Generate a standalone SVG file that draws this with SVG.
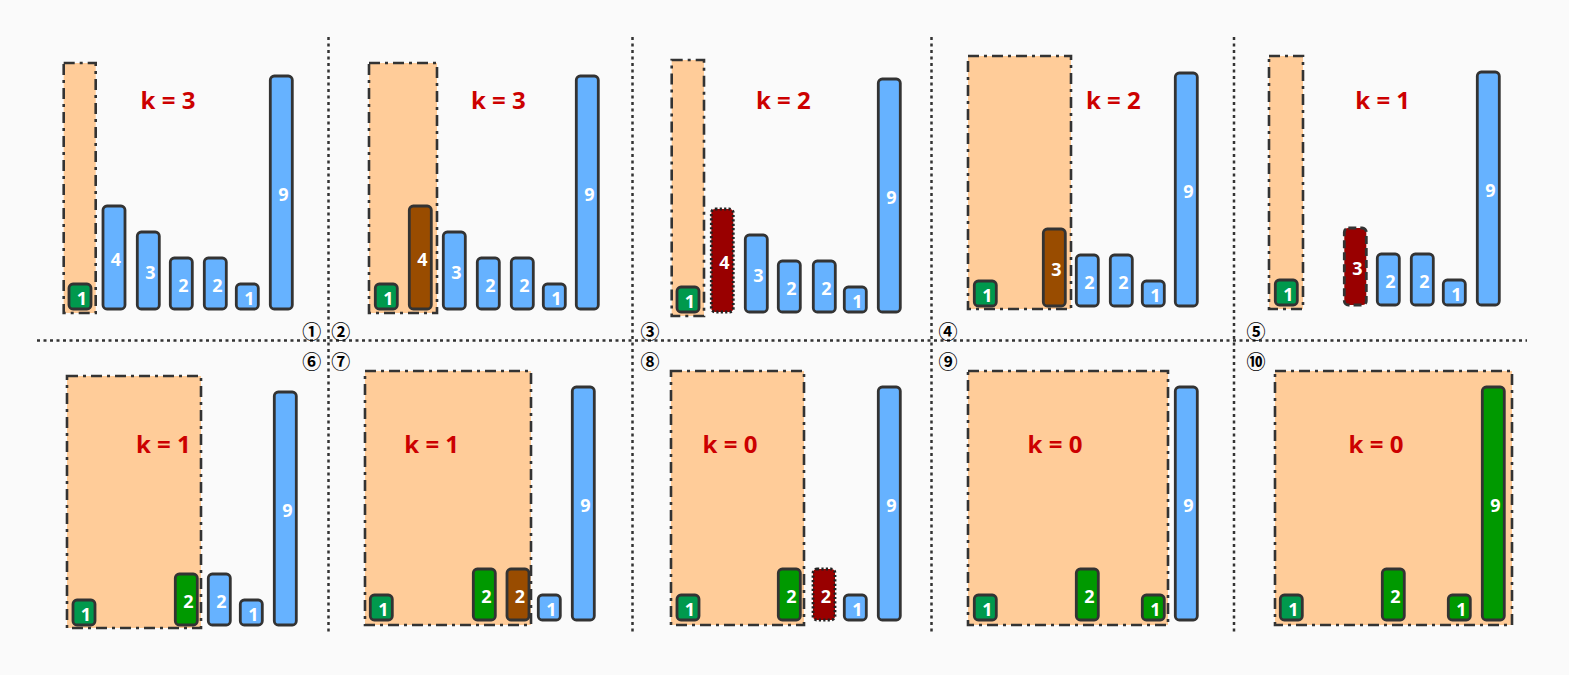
<svg xmlns="http://www.w3.org/2000/svg" width="1569" height="675" viewBox="0 0 1569 675">
<style>
.bar{stroke:#333333;stroke-width:2.8}
.b{fill:#66B2FF}
.t{fill:#00994D}
.g{fill:#009900}
.br{fill:#994C00}
.dr{fill:#990000}
.dot{stroke:#222222;stroke-dasharray:2.2 2.2}
.dash{stroke-dasharray:8 4}
.win{fill:#FFCC99;stroke:#333333;stroke-width:2.6;stroke-dasharray:11 5 3 5}
.v{font-family:"Open Sans","Liberation Sans",sans-serif;font-weight:bold;font-size:18px;fill:#FFFFFF;text-anchor:middle}
.k{font-family:"Open Sans","Liberation Sans",sans-serif;font-weight:bold;font-size:24px;fill:#CC0000;text-anchor:middle}
.n{font-family:"Noto Sans CJK SC","DejaVu Sans",sans-serif;font-size:19px;font-weight:bold;fill:#000000;text-anchor:middle;dominant-baseline:central}
.div{stroke:#333333;stroke-width:2.5;stroke-dasharray:3 3.5;fill:none}
</style>
<rect x="0" y="0" width="1569" height="675" fill="#FAFAFA"/>
<g id="dividers">
<line class="div" x1="37" y1="340.5" x2="1527" y2="340.5"/>
<line class="div" x1="328.5" y1="37" x2="328.5" y2="635"/>
<line class="div" x1="632.5" y1="37" x2="632.5" y2="635"/>
<line class="div" x1="931.5" y1="37" x2="931.5" y2="635"/>
<line class="div" x1="1234" y1="37" x2="1234" y2="635"/>
</g>
<g id="step-numbers">
<text class="n" x="311.7" y="330">①</text>
<text class="n" x="340.7" y="330">②</text>
<text class="n" x="650" y="330">③</text>
<text class="n" x="948" y="330">④</text>
<text class="n" x="1256" y="330">⑤</text>
<text class="n" x="311.7" y="360">⑥</text>
<text class="n" x="340.7" y="360">⑦</text>
<text class="n" x="650" y="360">⑧</text>
<text class="n" x="948" y="360">⑨</text>
<text class="n" x="1256" y="360">⑩</text>
</g>
<g id="panel1">
<rect id="p1-window" class="win" x="63.7" y="63" width="32" height="250"/>
<text class="k" x="168" y="109">k = 3</text>
<g id="p1-b1"><rect class="bar t" x="69" y="284" width="22" height="25" rx="4"/><text class="v" x="82" y="304.5">1</text></g>
<g id="p1-b2"><rect class="bar b" x="103" y="206" width="22" height="103" rx="4"/><text class="v" x="116" y="265.5">4</text></g>
<g id="p1-b3"><rect class="bar b" x="137.3" y="232" width="22" height="77" rx="4"/><text class="v" x="150.3" y="278.5">3</text></g>
<g id="p1-b4"><rect class="bar b" x="170.3" y="258" width="22" height="51" rx="4"/><text class="v" x="183.3" y="291.5">2</text></g>
<g id="p1-b5"><rect class="bar b" x="204.3" y="258" width="22" height="51" rx="4"/><text class="v" x="217.3" y="291.5">2</text></g>
<g id="p1-b6"><rect class="bar b" x="236.3" y="284" width="22" height="25" rx="4"/><text class="v" x="249.3" y="304.5">1</text></g>
<g id="p1-b7"><rect class="bar b" x="270.3" y="76" width="22" height="233" rx="4"/><text class="v" x="283.3" y="200.5">9</text></g>
</g>
<g id="panel2">
<rect id="p2-window" class="win" x="369" y="63" width="68" height="250"/>
<text class="k" x="498.3" y="109">k = 3</text>
<g id="p2-b1"><rect class="bar t" x="375.3" y="284" width="22" height="25" rx="4"/><text class="v" x="388.3" y="304.5">1</text></g>
<g id="p2-b2"><rect class="bar br" x="409.3" y="206" width="22" height="103" rx="4"/><text class="v" x="422.3" y="265.5">4</text></g>
<g id="p2-b3"><rect class="bar b" x="443.3" y="232" width="22" height="77" rx="4"/><text class="v" x="456.3" y="278.5">3</text></g>
<g id="p2-b4"><rect class="bar b" x="477.3" y="258" width="22" height="51" rx="4"/><text class="v" x="490.3" y="291.5">2</text></g>
<g id="p2-b5"><rect class="bar b" x="511.3" y="258" width="22" height="51" rx="4"/><text class="v" x="524.3" y="291.5">2</text></g>
<g id="p2-b6"><rect class="bar b" x="543.3" y="284" width="22" height="25" rx="4"/><text class="v" x="556.3" y="304.5">1</text></g>
<g id="p2-b7"><rect class="bar b" x="576.3" y="76" width="22" height="233" rx="4"/><text class="v" x="589.3" y="200.5">9</text></g>
</g>
<g id="panel3">
<rect id="p3-window" class="win" x="671.7" y="60" width="32.3" height="256"/>
<text class="k" x="783.3" y="109">k = 2</text>
<g id="p3-b1"><rect class="bar t" x="677" y="287" width="22" height="25" rx="4"/><text class="v" x="690" y="307.5">1</text></g>
<g id="p3-b2"><rect class="bar dr dot" x="711.3" y="209" width="22" height="103" rx="4"/><text class="v" x="724.3" y="268.5">4</text></g>
<g id="p3-b3"><rect class="bar b" x="745.3" y="235" width="22" height="77" rx="4"/><text class="v" x="758.3" y="281.5">3</text></g>
<g id="p3-b4"><rect class="bar b" x="778.3" y="261" width="22" height="51" rx="4"/><text class="v" x="791.3" y="294.5">2</text></g>
<g id="p3-b5"><rect class="bar b" x="813.3" y="261" width="22" height="51" rx="4"/><text class="v" x="826.3" y="294.5">2</text></g>
<g id="p3-b6"><rect class="bar b" x="844.3" y="287" width="22" height="25" rx="4"/><text class="v" x="857.3" y="307.5">1</text></g>
<g id="p3-b7"><rect class="bar b" x="878.3" y="79" width="22" height="233" rx="4"/><text class="v" x="891.3" y="203.5">9</text></g>
</g>
<g id="panel4">
<rect id="p4-window" class="win" x="968" y="56" width="103" height="253"/>
<text class="k" x="1113.3" y="109">k = 2</text>
<g id="p4-b1"><rect class="bar t" x="974.3" y="281" width="22" height="25" rx="4"/><text class="v" x="987.3" y="301.5">1</text></g>
<g id="p4-b2"><rect class="bar br" x="1043.3" y="229" width="22" height="77" rx="4"/><text class="v" x="1056.3" y="275.5">3</text></g>
<g id="p4-b3"><rect class="bar b" x="1076.3" y="255" width="22" height="51" rx="4"/><text class="v" x="1089.3" y="288.5">2</text></g>
<g id="p4-b4"><rect class="bar b" x="1110.3" y="255" width="22" height="51" rx="4"/><text class="v" x="1123.3" y="288.5">2</text></g>
<g id="p4-b5"><rect class="bar b" x="1142.3" y="281" width="22" height="25" rx="4"/><text class="v" x="1155.3" y="301.5">1</text></g>
<g id="p4-b6"><rect class="bar b" x="1175.3" y="73" width="22" height="233" rx="4"/><text class="v" x="1188.3" y="197.5">9</text></g>
</g>
<g id="panel5">
<rect id="p5-window" class="win" x="1269" y="56" width="34" height="253"/>
<text class="k" x="1382.7" y="109">k = 1</text>
<g id="p5-b1"><rect class="bar t" x="1275.3" y="280" width="22" height="25" rx="4"/><text class="v" x="1288.3" y="300.5">1</text></g>
<g id="p5-b2"><rect class="bar dr dash" x="1344.3" y="228" width="22" height="77" rx="4"/><text class="v" x="1357.3" y="274.5">3</text></g>
<g id="p5-b3"><rect class="bar b" x="1377.3" y="254" width="22" height="51" rx="4"/><text class="v" x="1390.3" y="287.5">2</text></g>
<g id="p5-b4"><rect class="bar b" x="1411.3" y="254" width="22" height="51" rx="4"/><text class="v" x="1424.3" y="287.5">2</text></g>
<g id="p5-b5"><rect class="bar b" x="1443.3" y="280" width="22" height="25" rx="4"/><text class="v" x="1456.3" y="300.5">1</text></g>
<g id="p5-b6"><rect class="bar b" x="1477.3" y="72" width="22" height="233" rx="4"/><text class="v" x="1490.3" y="196.5">9</text></g>
</g>
<g id="panel6">
<rect id="p6-window" class="win" x="67" y="376" width="134" height="252"/>
<text class="k" x="163.3" y="453">k = 1</text>
<g id="p6-b1"><rect class="bar t" x="73" y="600" width="22" height="25" rx="4"/><text class="v" x="86" y="620.5">1</text></g>
<g id="p6-b2"><rect class="bar g" x="175.3" y="574" width="22" height="51" rx="4"/><text class="v" x="188.3" y="607.5">2</text></g>
<g id="p6-b3"><rect class="bar b" x="208.3" y="574" width="22" height="51" rx="4"/><text class="v" x="221.3" y="607.5">2</text></g>
<g id="p6-b4"><rect class="bar b" x="240.3" y="600" width="22" height="25" rx="4"/><text class="v" x="253.3" y="620.5">1</text></g>
<g id="p6-b5"><rect class="bar b" x="274.3" y="392" width="22" height="233" rx="4"/><text class="v" x="287.3" y="516.5">9</text></g>
</g>
<g id="panel7">
<rect id="p7-window" class="win" x="365" y="371" width="166" height="254"/>
<text class="k" x="431.7" y="453">k = 1</text>
<g id="p7-b1"><rect class="bar t" x="370.3" y="595" width="22" height="25" rx="4"/><text class="v" x="383.3" y="615.5">1</text></g>
<g id="p7-b2"><rect class="bar g" x="473.3" y="569" width="22" height="51" rx="4"/><text class="v" x="486.3" y="602.5">2</text></g>
<g id="p7-b3"><rect class="bar br" x="507" y="569" width="22" height="51" rx="4"/><text class="v" x="520" y="602.5">2</text></g>
<g id="p7-b4"><rect class="bar b" x="538.3" y="595" width="22" height="25" rx="4"/><text class="v" x="551.3" y="615.5">1</text></g>
<g id="p7-b5"><rect class="bar b" x="572.3" y="387" width="22" height="233" rx="4"/><text class="v" x="585.3" y="511.5">9</text></g>
</g>
<g id="panel8">
<rect id="p8-window" class="win" x="671" y="371" width="133" height="254"/>
<text class="k" x="730" y="453">k = 0</text>
<g id="p8-b1"><rect class="bar t" x="677" y="595" width="22" height="25" rx="4"/><text class="v" x="690" y="615.5">1</text></g>
<g id="p8-b2"><rect class="bar g" x="778.3" y="569" width="22" height="51" rx="4"/><text class="v" x="791.3" y="602.5">2</text></g>
<g id="p8-b3"><rect class="bar dr dot" x="813" y="569" width="22" height="51" rx="4"/><text class="v" x="826" y="602.5">2</text></g>
<g id="p8-b4"><rect class="bar b" x="844.3" y="595" width="22" height="25" rx="4"/><text class="v" x="857.3" y="615.5">1</text></g>
<g id="p8-b5"><rect class="bar b" x="878.3" y="387" width="22" height="233" rx="4"/><text class="v" x="891.3" y="511.5">9</text></g>
</g>
<g id="panel9">
<rect id="p9-window" class="win" x="968" y="371" width="200" height="254"/>
<text class="k" x="1055" y="453">k = 0</text>
<g id="p9-b1"><rect class="bar t" x="974.3" y="595" width="22" height="25" rx="4"/><text class="v" x="987.3" y="615.5">1</text></g>
<g id="p9-b2"><rect class="bar g" x="1076.3" y="569" width="22" height="51" rx="4"/><text class="v" x="1089.3" y="602.5">2</text></g>
<g id="p9-b3"><rect class="bar g" x="1142.3" y="595" width="22" height="25" rx="4"/><text class="v" x="1155.3" y="615.5">1</text></g>
<g id="p9-b4"><rect class="bar b" x="1175.3" y="387" width="22" height="233" rx="4"/><text class="v" x="1188.3" y="511.5">9</text></g>
</g>
<g id="panel10">
<rect id="p10-window" class="win" x="1275" y="371" width="237" height="254"/>
<text class="k" x="1376" y="453">k = 0</text>
<g id="p10-b1"><rect class="bar t" x="1280.3" y="595" width="22" height="25" rx="4"/><text class="v" x="1293.3" y="615.5">1</text></g>
<g id="p10-b2"><rect class="bar g" x="1382.3" y="569" width="22" height="51" rx="4"/><text class="v" x="1395.3" y="602.5">2</text></g>
<g id="p10-b3"><rect class="bar g" x="1448.3" y="595" width="22" height="25" rx="4"/><text class="v" x="1461.3" y="615.5">1</text></g>
<g id="p10-b4"><rect class="bar g" x="1482.3" y="387" width="22" height="233" rx="4"/><text class="v" x="1495.3" y="511.5">9</text></g>
</g>
</svg>
